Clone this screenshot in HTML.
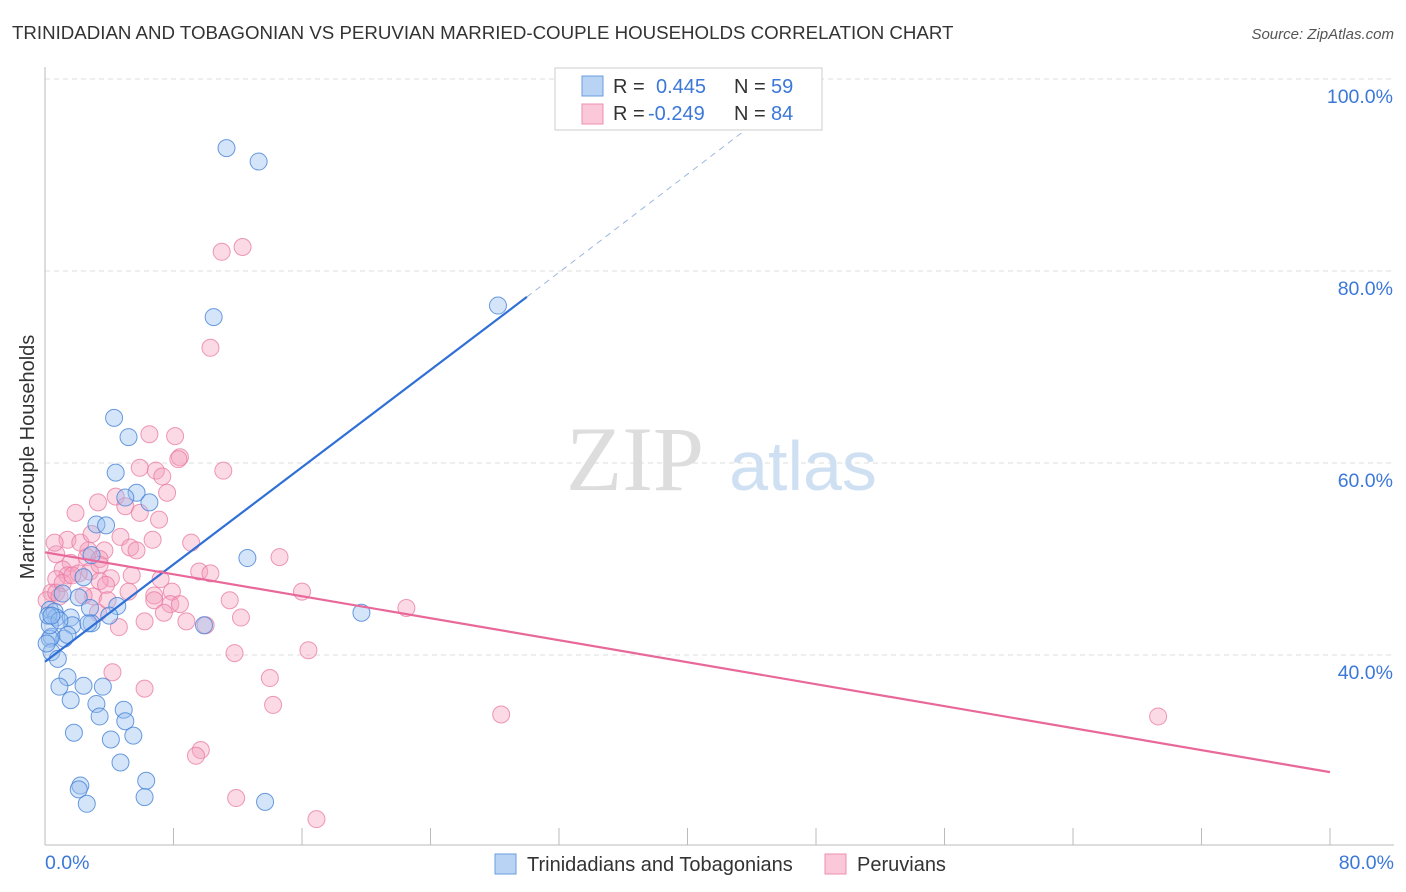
<!DOCTYPE html>
<html><head><meta charset="utf-8"><style>
body{margin:0;background:#fff;font-family:"Liberation Sans",sans-serif;}
svg{display:block}
</style></head><body>
<svg width="1406" height="892" viewBox="0 0 1406 892">
<text x="12" y="39" font-size="18.7" fill="#333">TRINIDADIAN AND TOBAGONIAN VS PERUVIAN MARRIED-COUPLE HOUSEHOLDS CORRELATION CHART</text>
<text x="1394" y="39" font-size="15" fill="#555" font-style="italic" text-anchor="end">Source: ZipAtlas.com</text>
<g id="grid"></g>
<g>
<text x="635" y="490" font-size="92" fill="#ddd" font-family="Liberation Serif,serif" text-anchor="middle">ZIP</text>
<text x="803" y="490" font-size="70" fill="#cfe0f3" text-anchor="middle">atlas</text>
</g>
<line x1="45" y1="67" x2="45" y2="845" stroke="#bbb"/>
<line x1="45" y1="845" x2="1394" y2="845" stroke="#bbb"/>
<text x="0" y="0" transform="translate(34,457) rotate(-90)" font-size="20" fill="#333" text-anchor="middle">Married-couple Households</text>
<text x="45" y="869" font-size="19.5" fill="#3b78d8">0.0%</text>
<text x="1394" y="869" font-size="19.5" fill="#3b78d8" text-anchor="end">80.0%</text>
<g id="points"></g>
<g id="trends"></g>
<g>
<rect x="555" y="68" width="267" height="62" fill="#fff" stroke="#ccc"/>
<rect x="582" y="76" width="21" height="20" fill="#b9d3f5" stroke="#6a9de0"/>
<rect x="582" y="104" width="21" height="20" fill="#fac8d8" stroke="#ec8fae"/>
<text x="613" y="93" font-size="20" fill="#333">R =</text><text x="656" y="93" font-size="20" fill="#3b78d8">0.445</text>
<text x="734" y="93" font-size="20" fill="#333">N =</text><text x="771" y="93" font-size="20" fill="#3b78d8">59</text>
<text x="613" y="120" font-size="20" fill="#333">R =</text><text x="648" y="120" font-size="20" fill="#3b78d8">-0.249</text>
<text x="734" y="120" font-size="20" fill="#333">N =</text><text x="771" y="120" font-size="20" fill="#3b78d8">84</text>
</g>
<g>
<rect x="495" y="854" width="21" height="20" fill="#b9d3f5" stroke="#6a9de0"/>
<text x="527" y="871" font-size="20" fill="#333">Trinidadians and Tobagonians</text>
<rect x="825" y="854" width="21" height="20" fill="#fac8d8" stroke="#ec8fae"/>
<text x="857" y="871" font-size="20" fill="#333">Peruvians</text>
</g>
</svg>
<script>
const yTicks=[40,60,80,100];
const xTicks=[0,8,16,24,32,40,48,56,64,72,80];
const blueX=[11.3,13.3,10.5,28.2,4.3,5.2,4.4,5.7,5.0,6.5,3.2,3.8,12.6,2.9,2.4,2.1,1.1,0.3,0.6,0.7,1.6,2.8,4.5,4.0,2.9,1.7,2.7,0.4,1.2,1.4,0.3,9.9,19.7,0.4,0.8,1.4,0.9,2.4,3.6,1.6,3.2,3.4,4.9,5.0,5.5,4.1,1.8,4.7,6.3,2.2,2.1,2.6,6.2,13.7,0.3,0.2,0.1,0.9,0.4];
const blueY=[92.8,91.4,75.2,76.4,64.7,62.7,59.0,56.9,56.4,55.9,53.6,53.5,50.1,50.4,48.1,46.0,46.4,44.7,44.5,43.9,43.9,44.9,45.1,44.1,43.3,43.1,43.3,41.9,41.7,42.1,41.7,43.1,44.4,40.3,39.6,37.7,36.7,36.8,36.7,35.3,34.9,33.6,34.3,33.1,31.6,31.2,31.9,28.8,26.9,26.4,26.0,24.5,25.2,24.7,43.1,44.1,41.2,43.6,44.1];
const pinkX=[11.0,12.3,10.3,6.5,8.1,8.4,8.3,11.1,5.9,6.9,7.3,7.6,3.3,4.4,5.0,7.1,1.9,4.7,1.4,6.7,5.3,9.1,2.7,5.7,3.7,0.7,2.6,1.6,3.4,14.6,1.1,2.8,1.4,2.1,5.4,9.6,4.1,7.2,3.4,3.8,0.7,0.4,6.8,7.9,5.2,16.0,0.1,3.0,6.8,7.8,11.5,7.4,3.3,22.5,8.8,12.2,4.6,10.0,11.8,16.4,4.2,6.2,14.0,14.2,28.4,69.3,9.7,9.4,11.9,16.9,0.7,1.1,2.2,3.4,6.2,0.6,5.9,1.7,3.9,0.9,2.9,8.4,10.3,2.4];
const pinkY=[82.0,82.5,72.0,63.0,62.8,60.6,60.4,59.2,59.5,59.2,58.6,56.9,55.9,56.5,55.5,54.1,54.8,52.3,52.0,52.0,51.2,51.7,50.9,50.9,50.9,50.5,50.2,49.6,50.0,50.2,48.9,48.7,48.3,48.5,48.3,48.7,48.0,47.9,47.7,47.3,47.9,46.5,46.2,46.6,46.6,46.6,45.7,46.1,45.7,45.3,45.7,44.4,44.4,44.9,43.5,43.9,42.9,43.1,40.2,40.5,38.2,36.5,37.6,34.8,33.8,33.6,30.1,29.5,25.1,22.9,46.5,47.5,51.7,49.4,43.5,51.7,54.8,48.3,45.7,46.1,52.6,45.3,48.5,46.2];
const blueTrend=[0,39.3,30,77.3];const blueDash=[30,77.3,44,95.2];
const pinkTrend=[0,50.7,80,27.8];
const ns="http://www.w3.org/2000/svg";
const X=v=>45+v/80*1285, Y=v=>655-(v-40)/20*192;
const grid=document.getElementById('grid');
yTicks.forEach(t=>{
 const l=document.createElementNS(ns,'line');
 l.setAttribute('x1',45);l.setAttribute('x2',1394);l.setAttribute('y1',Y(t));l.setAttribute('y2',Y(t));
 l.setAttribute('stroke','#ddd');l.setAttribute('stroke-dasharray','5,4');
 
 
 grid.appendChild(l);
 const tx=document.createElementNS(ns,'text');
 tx.setAttribute('x',1393);tx.setAttribute('y',Y(t)+24);tx.setAttribute('font-size','19.5');tx.setAttribute('fill','#3b78d8');tx.setAttribute('text-anchor','end');
 tx.textContent=t.toFixed(1)+'%';
 
 
 grid.appendChild(tx);
});
xTicks.forEach(t=>{
 const l=document.createElementNS(ns,'line');
 l.setAttribute('x1',X(t));l.setAttribute('x2',X(t));l.setAttribute('y1',828);l.setAttribute('y2',845);
 l.setAttribute('stroke','#bbb');
 
 
 grid.appendChild(l);
});
const pts=document.getElementById('points');
function dots(xs,ys,fill,stroke,name){
 xs.forEach((x,i)=>{
  const c=document.createElementNS(ns,'circle');
  c.setAttribute('cx',X(x));c.setAttribute('cy',Y(ys[i]));c.setAttribute('r',8.5);
  c.setAttribute('fill',fill);c.setAttribute('stroke',stroke);c.setAttribute('stroke-width','1');
  
  
  pts.appendChild(c);
 });
}
dots(pinkX,pinkY,'rgba(245,160,190,0.4)','rgba(232,120,160,0.75)','peruvian-point');
dots(blueX,blueY,'rgba(150,190,240,0.4)','rgba(70,130,215,0.8)','trinidadian-point');
const tr=document.getElementById('trends');
function line(a,color,w,dash,name){
 const l=document.createElementNS(ns,'line');
 l.setAttribute('x1',X(a[0]));l.setAttribute('y1',Y(a[1]));l.setAttribute('x2',X(a[2]));l.setAttribute('y2',Y(a[3]));
 l.setAttribute('stroke',color);l.setAttribute('stroke-width',w);
 if(dash)l.setAttribute('stroke-dasharray',dash);
 
 
 tr.appendChild(l);
}
line(blueTrend,'#2f6fd6',2.2,null,'trinidadian-trend-line');
line(blueDash,'#9bb8e0',1,'6,5','trinidadian-trend-extension');
line(pinkTrend,'#e8689a',2.2,null,'peruvian-trend-line');
</script>
</body></html>
